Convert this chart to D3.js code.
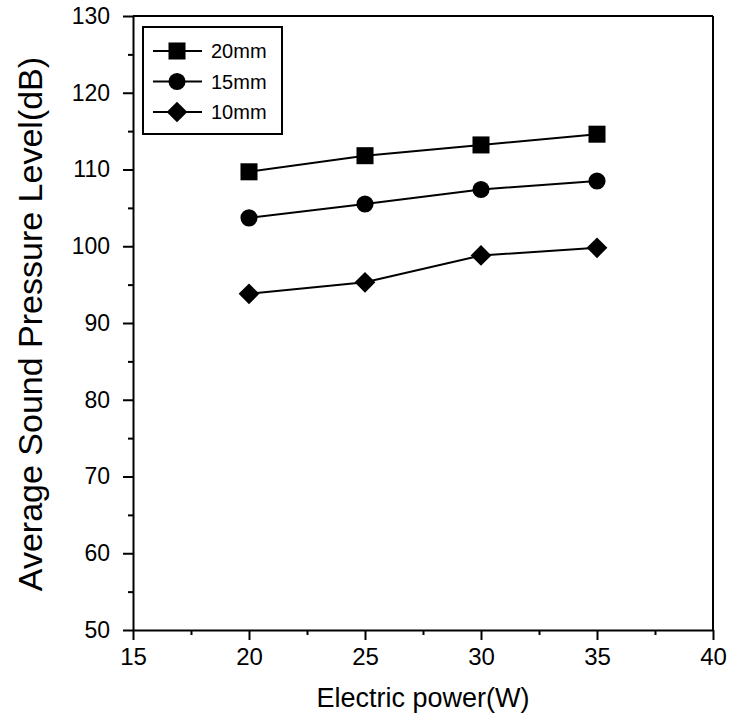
<!DOCTYPE html>
<html>
<head>
<meta charset="utf-8">
<script src="https://cdn.jsdelivr.net/npm/d3@7"></script>
<style>
  body { margin: 0; background: #fff; }
  svg { display: block; font-family: Arial, "Liberation Sans", sans-serif; }
</style>
</head>
<body>
<div id="chart"></div>
<script>
// data
const powers = [20, 25, 30, 35];
const spl20 = [109.7, 111.8, 113.2, 114.6];
const spl15 = [103.7, 105.5, 107.4, 108.5];
const spl10 = [93.8, 95.3, 98.8, 99.8];
const seriesNames = ["20mm", "15mm", "10mm"];
const xTicks = [15, 20, 25, 30, 35, 40];
const yTicks = [50, 60, 70, 80, 90, 100, 110, 120, 130];

const series = [
  { name: seriesNames[0], values: spl20, symbol: d3.symbolSquare, size: 290, rot: 0 },
  { name: seriesNames[1], values: spl15, symbol: d3.symbolCircle, size: 230, rot: 0 },
  { name: seriesNames[2], values: spl10, symbol: d3.symbolSquare, size: 215, rot: 45 }
];

const width = 731, height = 721;
const margin = { top: 16, right: 18, bottom: 91, left: 133 };
const FONT = "Arial, 'Liberation Sans', sans-serif";

const svg = d3.select("#chart").append("svg")
    .attr("width", width)
    .attr("height", height);

const x = d3.scaleLinear().domain([15, 40]).range([margin.left, width - margin.right]);
const y = d3.scaleLinear().domain([50, 130]).range([height - margin.bottom, margin.top]);

// minor ticks
const xMinor = d3.range(17.5, 40, 5);
const yMinor = d3.range(55, 130, 10);

svg.append("g")
    .attr("transform", `translate(0,${y(50)})`)
    .call(d3.axisBottom(x).tickValues(xMinor).tickSize(5).tickFormat(""))
    .call(g => g.select(".domain").remove())
    .selectAll("line").attr("stroke-width", 2);

svg.append("g")
    .attr("transform", `translate(${x(15)},0)`)
    .call(d3.axisLeft(y).tickValues(yMinor).tickSize(5).tickFormat(""))
    .call(g => g.select(".domain").remove())
    .selectAll("line").attr("stroke-width", 2);

// major axes
const xAxis = svg.append("g")
    .attr("transform", `translate(0,${y(50)})`)
    .call(d3.axisBottom(x).tickValues(xTicks).tickSize(10).tickSizeOuter(0).tickPadding(8));
xAxis.attr("font-size", null).attr("font-family", null);
xAxis.select(".domain").attr("stroke-width", 2);
xAxis.selectAll("line").attr("stroke-width", 2);
xAxis.selectAll("text").attr("fill", "#000")
    .style("font-size", "24px").style("font-family", FONT);

const yAxis = svg.append("g")
    .attr("transform", `translate(${x(15)},0)`)
    .call(d3.axisLeft(y).tickValues(yTicks).tickSize(10).tickSizeOuter(0).tickPadding(13));
yAxis.attr("font-size", null).attr("font-family", null);
yAxis.select(".domain").attr("stroke-width", 2);
yAxis.selectAll("line").attr("stroke-width", 2);
yAxis.selectAll("text").attr("fill", "#000")
    .style("font-size", "23px").style("font-family", FONT);

// top and right frame
svg.append("line")
    .attr("x1", x(15)).attr("x2", x(40)).attr("y1", y(130)).attr("y2", y(130))
    .attr("stroke", "#000").attr("stroke-width", 2);
svg.append("line")
    .attr("x1", x(40)).attr("x2", x(40)).attr("y1", y(130)).attr("y2", y(50))
    .attr("stroke", "#000").attr("stroke-width", 2);

// axis titles
svg.append("text")
    .attr("x", 423)
    .attr("y", 707)
    .attr("text-anchor", "middle")
    .style("font-size", "27px")
    .text("Electric power(W)");

svg.append("text")
    .attr("transform", `translate(42,324) rotate(-90)`)
    .attr("text-anchor", "middle")
    .style("font-size", "34px")
    .text("Average Sound Pressure Level(dB)");

// lines and markers
const line = d3.line().x((d, i) => x(powers[i])).y(d => y(d));

series.forEach(s => {
  svg.append("path")
      .datum(s.values)
      .attr("d", line)
      .attr("fill", "none")
      .attr("stroke", "#000")
      .attr("stroke-width", 2);
  svg.append("g").selectAll("path")
    .data(s.values)
    .join("path")
      .attr("transform", (d, i) => `translate(${x(powers[i])},${y(d)}) rotate(${s.rot})`)
      .attr("d", d3.symbol().type(s.symbol).size(s.size))
      .attr("fill", "#000");
});

// legend
const legend = svg.append("g");
legend.append("rect")
    .attr("x", 143).attr("y", 27).attr("width", 139).attr("height", 107)
    .attr("fill", "#fff").attr("stroke", "#000").attr("stroke-width", 2);

series.forEach((s, i) => {
  const ly = 51 + i * 30.5;
  legend.append("line")
      .attr("x1", 153).attr("x2", 202).attr("y1", ly).attr("y2", ly)
      .attr("stroke", "#000").attr("stroke-width", 2);
  legend.append("path")
      .attr("transform", `translate(177,${ly}) rotate(${s.rot})`)
      .attr("d", d3.symbol().type(s.symbol).size(s.size))
      .attr("fill", "#000");
  legend.append("text")
      .attr("x", 211).attr("y", ly)
      .attr("dy", "0.36em")
      .style("font-size", "20px")
      .text(s.name);
});
</script>
</body>
</html>
